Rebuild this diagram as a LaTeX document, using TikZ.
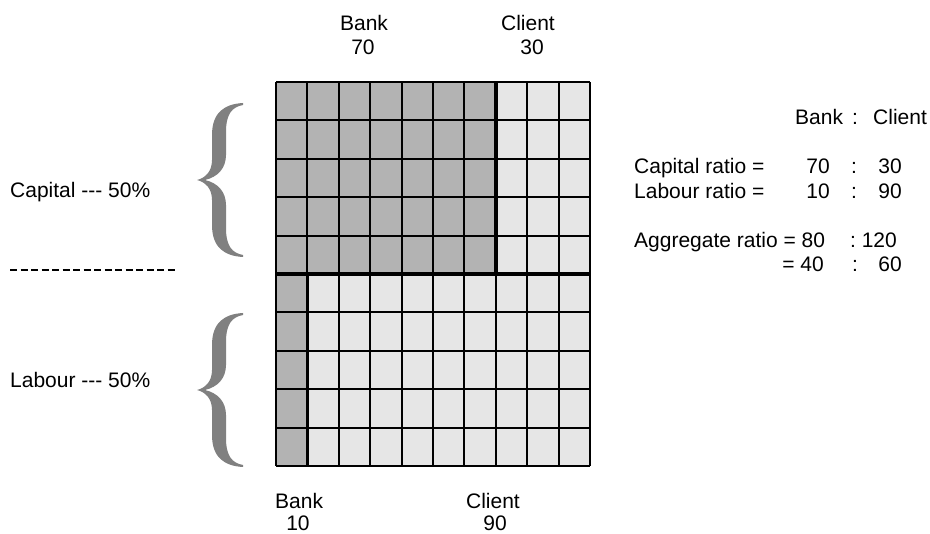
\documentclass[tikz,border=0pt]{standalone}
\usepackage{fontspec}
\setmainfont[Ligatures=NoCommon]{Liberation Sans}
\usetikzlibrary{positioning}

\definecolor{bankgray}{HTML}{B3B3B3}
\definecolor{clientgray}{HTML}{E6E6E6}
\definecolor{bracegray}{HTML}{808080}

\tikzset{
  lbl/.style={inner sep=0pt, font=\fontsize{21}{24}\selectfont},
  cellline/.style={line width=2pt},
  splitline/.style={line width=3.5pt},
  pics/curly/.style={code={
    \fill[bracegray] (46,-77) .. controls (28,-76) and (15,-68) .. (15,-45) -- (15,-20)
      .. controls (15,-8) and (8,-2) .. (0,0) .. controls (8,2) and (15,8) .. (15,20)
      -- (15,45) .. controls (15,68) and (28,76) .. (46,77) -- (46,75)
      .. controls (35,73) and (29,66) .. (29,48) -- (29,25)
      .. controls (29,12) and (21,3) .. (8,0) .. controls (21,-3) and (29,-12) .. (29,-25)
      -- (29,-48) .. controls (29,-66) and (35,-73) .. (46,-75) -- cycle;
  }}
}

\begin{document}
\begin{tikzpicture}[x=1pt, y=-1pt]
  \useasboundingbox (0,0) rectangle (930,534);

  % 10 x 10 grid of shares
  \begin{scope}[shift={(276,82)}, x=31.4pt, y=-38.4pt]
    \fill[bankgray]   (0,0) rectangle (7,5);
    \fill[clientgray] (7,0) rectangle (10,5);
    \fill[bankgray]   (0,5) rectangle (1,10);
    \fill[clientgray] (1,5) rectangle (10,10);
    \foreach \i in {0,...,10} {
      \draw[cellline] (\i,0) -- (\i,10);
      \draw[cellline] (0,\i) -- (10,\i);
    }
    % split lines
    \draw[splitline] (0,5) -- (10,5);
    \draw[splitline] (7,0) -- (7,5);
    \draw[splitline] (1,5) -- (1,10);
  \end{scope}

  % braces and separator
  \pic at (197,180) {curly};
  \pic at (197,390) {curly};
  \draw[line width=1.6pt, dash pattern=on 7pt off 3.5pt] (10,270) -- (178,270);

  % left labels
  \node[lbl, anchor=base west] (capital) at (10,198) {Capital -{}-{}- 50\%};
  \node[lbl, anchor=base west] (labour)  at (10,388) {Labour -{}-{}- 50\%};

  % column labels, top
  \node[lbl, anchor=base] (bankTop)   at (364,31) {Bank};
  \node[lbl, anchor=base] (bankTopV)  at (363,55) {70};
  \node[lbl, anchor=base] (clientTop) at (528,31) {Client};
  \node[lbl, anchor=base] (clientTopV) at (532,55) {30};

  % column labels, bottom
  \node[lbl, anchor=base west] (bankBot) at (275,509) {Bank};
  \node[lbl, anchor=base] (bankBotV)   at (298,531) {10};
  \node[lbl, anchor=base] (clientBot)  at (493,509) {Client};
  \node[lbl, anchor=base] (clientBotV) at (495,531) {90};

  % ratios
  \node[lbl, anchor=base west] (hBank)   at (795,125) {Bank};
  \node[lbl, anchor=base]      (hColon)  at (855,125) {:};
  \node[lbl, anchor=base west] (hClient) at (873,125) {Client};

  \node[lbl, anchor=base west] (capRatio) at (634,174) {Capital ratio =};
  \node[lbl, anchor=base east] (capBank)  at (830,174) {70};
  \node[lbl, anchor=base]      (capColon) at (854,174) {:};
  \node[lbl, anchor=base east] (capClient) at (902,174) {30};

  \node[lbl, anchor=base west] (labRatio) at (634,199) {Labour ratio =};
  \node[lbl, anchor=base east] (labBank)  at (830,199) {10};
  \node[lbl, anchor=base]      (labColon) at (854,199) {:};
  \node[lbl, anchor=base east] (labClient) at (902,199) {90};

  \node[lbl, anchor=base west] (aggRatio) at (634,248) {Aggregate ratio = 80};
  \node[lbl, anchor=base]      (aggColon) at (853,248) {:};
  \node[lbl, anchor=base east] (aggClient) at (897,248) {120};

  \node[lbl, anchor=base east] (redBank)  at (824,272) {= 40};
  \node[lbl, anchor=base]      (redColon) at (855,272) {:};
  \node[lbl, anchor=base east] (redClient) at (902,272) {60};
\end{tikzpicture}
\end{document}
